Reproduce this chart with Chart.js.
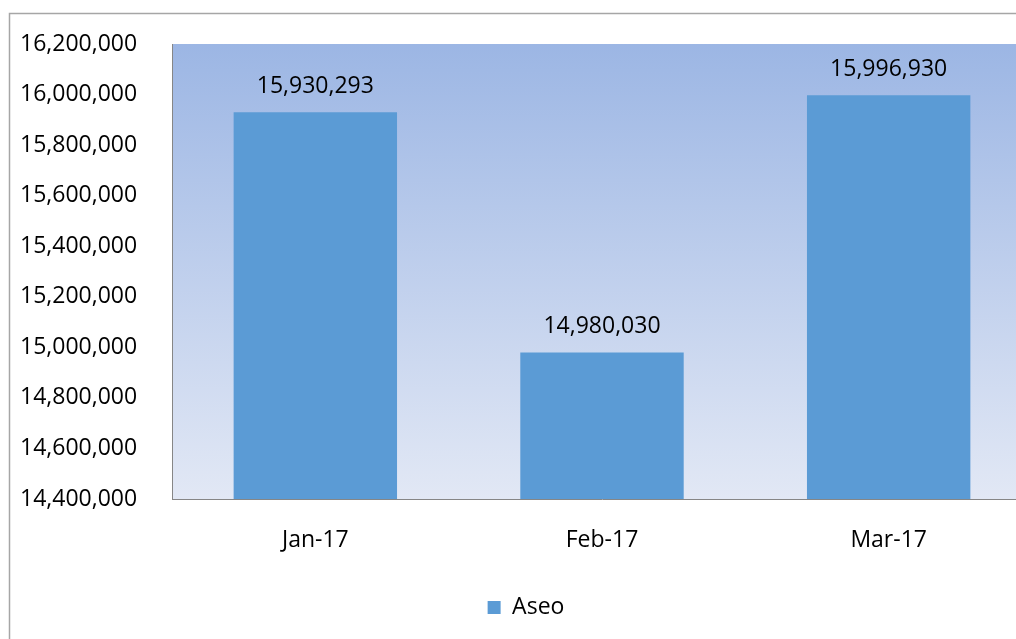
<!DOCTYPE html>
<html>
<head>
<meta charset="utf-8">
<script src="https://cdn.jsdelivr.net/npm/chart.js@4/dist/chart.umd.min.js"></script>
<style>
  html, body { margin: 0; padding: 0; background: #fff; overflow: hidden; }
  #wrap { width: 1040px; height: 639px; position: relative; }
</style>
</head>
<body>
<div id="wrap"><canvas id="chart" width="1040" height="639"></canvas></div>
<script>
const months = ["Jan-17", "Feb-17", "Mar-17"];
const aseo = [15930293, 14980030, 15996930];
const yMin = 14400000;
const yMax = 16200000;
const yStep = 200000;

const fontName = "'Open Sans', 'Noto Sans', sans-serif";

function fmt(v) {
    return Number(v).toLocaleString("en-US");
}

// outer frame + gradient behind the bars
const background = {
    id: "background",
    beforeDraw(chart) {
        const ctx = chart.ctx;
        const a = chart.chartArea;
        ctx.save();
        ctx.strokeStyle = "#a6a6a6";
        ctx.lineWidth = 1.5;
        ctx.beginPath();
        ctx.moveTo(9.5, chart.height + 2);
        ctx.lineTo(9.5, 13.5);
        ctx.lineTo(chart.width + 2, 13.5);
        ctx.stroke();

        const g = ctx.createLinearGradient(0, a.top, 0, a.bottom);
        g.addColorStop(0, "#9cb6e4");
        g.addColorStop(1, "#e2e8f5");
        ctx.fillStyle = g;
        ctx.fillRect(a.left, a.top, a.right - a.left, a.bottom - a.top);
        ctx.restore();
    }
};

// value labels above the bars
const barLabels = {
    id: "barLabels",
    afterDatasetsDraw(chart) {
        const ctx = chart.ctx;
        const meta = chart.getDatasetMeta(0);
        ctx.save();
        ctx.font = "23px " + fontName;
        ctx.fillStyle = "#000";
        ctx.textAlign = "center";
        ctx.textBaseline = "alphabetic";
        meta.data.forEach((bar, i) => {
            ctx.fillText(fmt(aseo[i]), bar.x, bar.y - 19);
        });
        ctx.restore();
    }
};

new Chart(document.getElementById("chart"), {
    type: "bar",
    data: {
        labels: months,
        datasets: [{
            label: "Aseo",
            data: aseo,
            backgroundColor: "#5b9bd5",
            borderWidth: 0,
            categoryPercentage: 1,
            barPercentage: 0.57
        }]
    },
    options: {
        responsive: false,
        animation: false,
        layout: {
            padding: {left: 20, top: 44, right: 8, bottom: 10}
        },
        plugins: {
            tooltip: {enabled: false},
            legend: {
                position: "bottom",
                labels: {
                    color: "#000",
                    font: {family: fontName, size: 23},
                    boxWidth: 13,
                    boxHeight: 13,
                    padding: 10
                }
            }
        },
        scales: {
            x: {
                grid: {display: false},
                border: {color: "#868686", width: 1},
                ticks: {
                    color: "#000",
                    font: {family: fontName, size: 23},
                    padding: 20
                },
                afterFit(scale) {
                    scale.height = 87;
                }
            },
            y: {
                min: yMin,
                max: yMax,
                grid: {display: false},
                border: {color: "#868686", width: 1},
                ticks: {
                    stepSize: yStep,
                    color: "#000",
                    crossAlign: "far",
                    font: {family: fontName, size: 23},
                    callback: v => fmt(v)
                },
                afterFit(scale) {
                    scale.width = 152;
                }
            }
        }
    },
    plugins: [background, barLabels]
});
</script>
</body>
</html>
